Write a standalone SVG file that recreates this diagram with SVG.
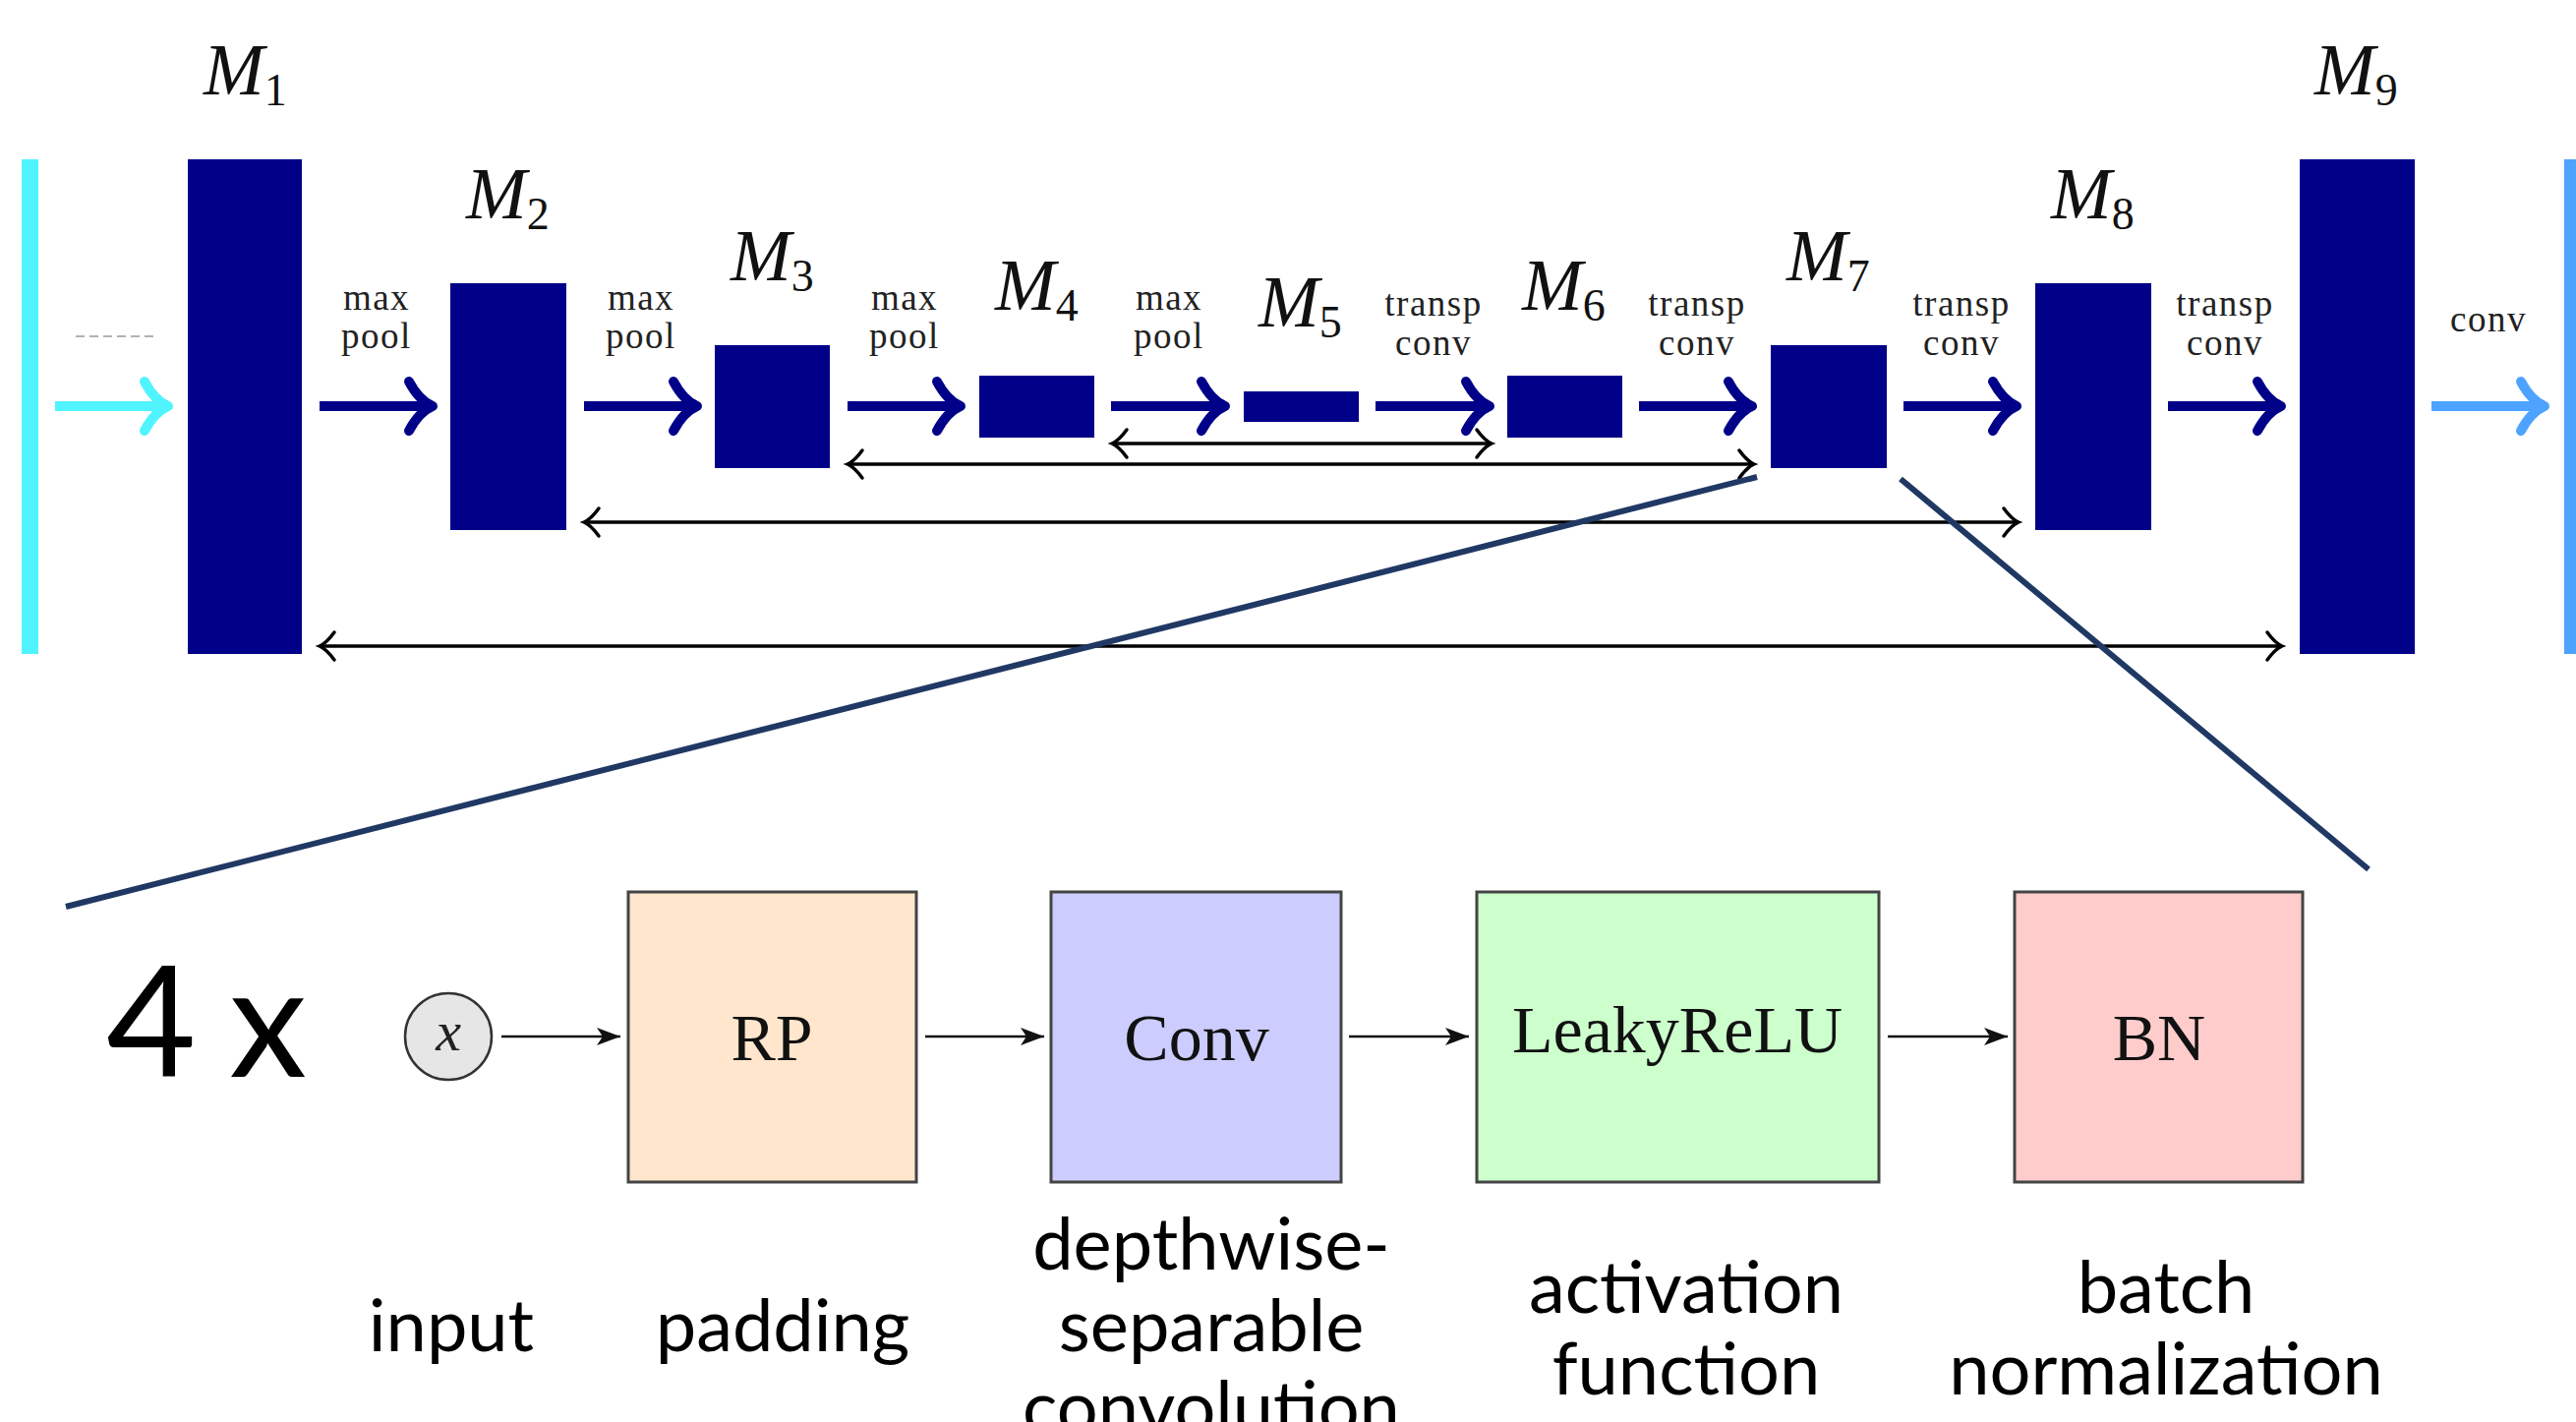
<svg xmlns="http://www.w3.org/2000/svg" width="2620" height="1446" viewBox="0 0 2620 1446">
<defs>
<style>
.blk{fill:#000088}
.lbl{font-family:"Liberation Serif",serif;font-size:74px;fill:#111}
.lbl .it{font-style:italic}
.op{font-family:"Liberation Serif",serif;font-size:37px;fill:#222;text-anchor:middle;letter-spacing:1.5px}
.thick{fill:none;stroke-width:10}
.skip{fill:none;stroke:#000;stroke-width:3.5;marker-start:url(#hS);marker-end:url(#hS)}
.zoom{stroke:#203864;stroke-width:6;fill:none}
.box{stroke:#444;stroke-width:3}
.boxt{font-family:"Liberation Serif",serif;font-size:68px;fill:#111;text-anchor:middle}
.cap{font-family:Lato,"Open Sans",sans-serif;font-size:74px;fill:#000;text-anchor:middle}
.flow{fill:none;stroke:#111;stroke-width:2.5;marker-end:url(#hF)}
</style>
<marker id="hN" markerUnits="userSpaceOnUse" viewBox="-40 -40 60 80" markerWidth="60" markerHeight="80" refX="0" refY="0" orient="auto" overflow="visible">
<path d="M-24,-25 Q-14,-6 0,0 Q-14,6 -24,25" fill="none" stroke="#000088" stroke-width="10" stroke-linecap="round" stroke-linejoin="round"/>
</marker>
<marker id="hC" markerUnits="userSpaceOnUse" viewBox="-40 -40 60 80" markerWidth="60" markerHeight="80" refX="0" refY="0" orient="auto" overflow="visible">
<path d="M-24,-25 Q-14,-6 0,0 Q-14,6 -24,25" fill="none" stroke="#50F4FF" stroke-width="10" stroke-linecap="round" stroke-linejoin="round"/>
</marker>
<marker id="hB" markerUnits="userSpaceOnUse" viewBox="-40 -40 60 80" markerWidth="60" markerHeight="80" refX="0" refY="0" orient="auto" overflow="visible">
<path d="M-24,-25 Q-14,-6 0,0 Q-14,6 -24,25" fill="none" stroke="#4DA3FF" stroke-width="10" stroke-linecap="round" stroke-linejoin="round"/>
</marker>
<marker id="hS" markerUnits="userSpaceOnUse" viewBox="-30 -30 40 60" markerWidth="40" markerHeight="60" refX="0" refY="0" orient="auto-start-reverse" overflow="visible">
<path d="M-15,-14 Q-7,-3 0,0 Q-7,3 -15,14" fill="none" stroke="#000" stroke-width="3.5" stroke-linecap="round"/>
</marker>
<marker id="hF" markerUnits="userSpaceOnUse" viewBox="-30 -15 35 30" markerWidth="35" markerHeight="30" refX="0" refY="0" orient="auto" overflow="visible">
<path d="M0,0 L-24,-9 L-18,0 L-24,9 Z" fill="#111"/>
</marker>
</defs>
<rect width="2620" height="1446" fill="#fff"/>

<g id="input-bar"><rect x="22" y="162" width="17" height="503" fill="#50F4FF"/></g>
<g id="output-bar"><rect x="2608" y="162" width="14" height="503" fill="#4DA3FF"/></g>
<line x1="77" y1="342" x2="158" y2="342" stroke="#999" stroke-width="1.5" stroke-dasharray="9 5"/>

<g id="M1"><rect class="blk" x="191" y="162" width="116" height="503"/><text class="lbl" x="207" y="96"><tspan class="it">M</tspan><tspan font-size="46" dy="11">1</tspan></text></g>
<g id="M2"><rect class="blk" x="458" y="288" width="118" height="251"/><text class="lbl" x="474" y="222"><tspan class="it">M</tspan><tspan font-size="46" dy="11">2</tspan></text></g>
<g id="M3"><rect class="blk" x="727" y="351" width="117" height="125"/><text class="lbl" x="743" y="285"><tspan class="it">M</tspan><tspan font-size="46" dy="11">3</tspan></text></g>
<g id="M4"><rect class="blk" x="996" y="382" width="117" height="63"/><text class="lbl" x="1012" y="315"><tspan class="it">M</tspan><tspan font-size="46" dy="11">4</tspan></text></g>
<g id="M5"><rect class="blk" x="1265" y="398" width="117" height="31"/><text class="lbl" x="1280" y="332"><tspan class="it">M</tspan><tspan font-size="46" dy="11">5</tspan></text></g>
<g id="M6"><rect class="blk" x="1533" y="382" width="117" height="63"/><text class="lbl" x="1548" y="315"><tspan class="it">M</tspan><tspan font-size="46" dy="11">6</tspan></text></g>
<g id="M7"><rect class="blk" x="1801" y="351" width="118" height="125"/><text class="lbl" x="1817" y="285"><tspan class="it">M</tspan><tspan font-size="46" dy="11">7</tspan></text></g>
<g id="M8"><rect class="blk" x="2070" y="288" width="118" height="251"/><text class="lbl" x="2086" y="222"><tspan class="it">M</tspan><tspan font-size="46" dy="11">8</tspan></text></g>
<g id="M9"><rect class="blk" x="2339" y="162" width="117" height="503"/><text class="lbl" x="2354" y="96"><tspan class="it">M</tspan><tspan font-size="46" dy="11">9</tspan></text></g>

<g id="connectors">
<path class="thick" stroke="#50F4FF" marker-end="url(#hC)" d="M56,413 H171"/>
<path class="thick" stroke="#000088" marker-end="url(#hN)" d="M325,413 H440"/>
<path class="thick" stroke="#000088" marker-end="url(#hN)" d="M594,413 H709"/>
<path class="thick" stroke="#000088" marker-end="url(#hN)" d="M862,413 H977"/>
<path class="thick" stroke="#000088" marker-end="url(#hN)" d="M1130,413 H1246"/>
<path class="thick" stroke="#000088" marker-end="url(#hN)" d="M1399,413 H1515"/>
<path class="thick" stroke="#000088" marker-end="url(#hN)" d="M1667,413 H1782"/>
<path class="thick" stroke="#000088" marker-end="url(#hN)" d="M1936,413 H2051"/>
<path class="thick" stroke="#000088" marker-end="url(#hN)" d="M2205,413 H2320"/>
<path class="thick" stroke="#4DA3FF" marker-end="url(#hB)" d="M2473,413 H2588"/>

<text class="op" x="383" y="315">max</text><text class="op" x="383" y="354">pool</text>
<text class="op" x="652" y="315">max</text><text class="op" x="652" y="354">pool</text>
<text class="op" x="920" y="315">max</text><text class="op" x="920" y="354">pool</text>
<text class="op" x="1189" y="315">max</text><text class="op" x="1189" y="354">pool</text>
<text class="op" x="1458" y="321">transp</text><text class="op" x="1458" y="361">conv</text>
<text class="op" x="1726" y="321">transp</text><text class="op" x="1726" y="361">conv</text>
<text class="op" x="1995" y="321">transp</text><text class="op" x="1995" y="361">conv</text>
<text class="op" x="2263" y="321">transp</text><text class="op" x="2263" y="361">conv</text>
<text class="op" x="2531" y="337">conv</text>

<path class="skip" d="M1131,451 H1517"/>
<path class="skip" d="M862,472 H1784"/>
<path class="skip" d="M594,531 H2053"/>
<path class="skip" d="M325,657 H2321"/>

<line class="zoom" x1="1787" y1="485" x2="67" y2="922"/>
<line class="zoom" x1="1933" y1="487" x2="2409" y2="884"/>

<path class="flow" d="M510,1054 H631"/>
<path class="flow" d="M941,1054 H1062"/>
<path class="flow" d="M1372,1054 H1494"/>
<path class="flow" d="M1920,1054 H2042"/>
</g>

<text x="108" y="1095" font-family="Lato,'Open Sans',sans-serif" font-size="158" fill="#000" textLength="204" lengthAdjust="spacing">4 x</text>

<g id="input-x"><circle cx="456" cy="1054" r="44" fill="#E6E6E6" stroke="#333" stroke-width="2.5"/><text x="456" y="1068" font-family="'Liberation Serif',serif" font-style="italic" font-size="58" text-anchor="middle" fill="#222">x</text></g>
<g id="RP"><rect class="box" x="639" y="907" width="293" height="295" fill="#FFE6CC"/><text class="boxt" x="785" y="1078">RP</text></g>
<g id="Conv"><rect class="box" x="1069" y="907" width="295" height="295" fill="#CCCCFF"/><text class="boxt" x="1217" y="1078">Conv</text></g>
<g id="LeakyReLU"><rect class="box" x="1502" y="907" width="409" height="295" fill="#CCFFCC"/><text class="boxt" x="1706" y="1070">LeakyReLU</text></g>
<g id="BN"><rect class="box" x="2049" y="907" width="293" height="295" fill="#FFCCCC"/><text class="boxt" x="2196" y="1078">BN</text></g>

<text class="cap" x="459" y="1374">input</text>
<text class="cap" x="796" y="1374">padding</text>
<text class="cap" x="1232" y="1291">depthwise-</text>
<text class="cap" x="1232" y="1374">separable</text>
<text class="cap" x="1232" y="1457">convolution</text>
<text class="cap" x="1715" y="1335">activation</text>
<text class="cap" x="1715" y="1418">function</text>
<text class="cap" x="2203" y="1335">batch</text>
<text class="cap" x="2203" y="1418">normalization</text>
</svg>
